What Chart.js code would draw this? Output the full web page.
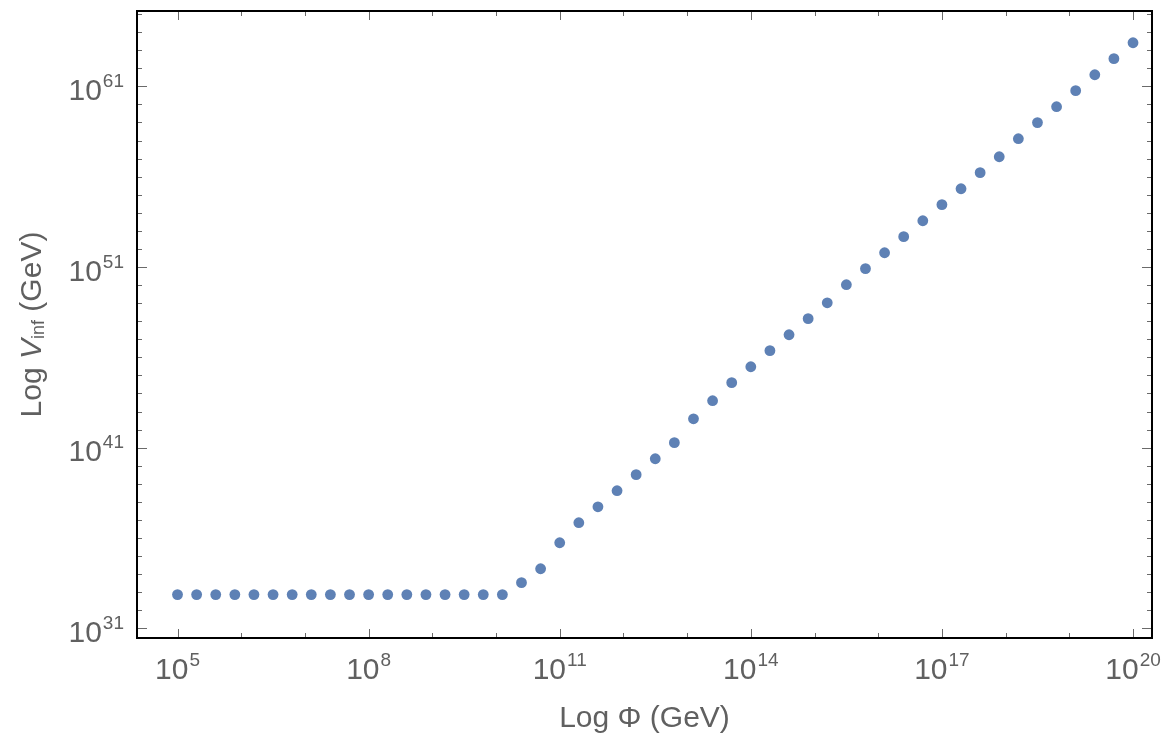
<!DOCTYPE html>
<html>
<head>
<meta charset="utf-8">
<title>Log V_inf vs Log Phi</title>
<script src="https://cdn.jsdelivr.net/npm/chart.js@4.4.1/dist/chart.umd.min.js"></script>
<style>
    html, body { margin: 0; padding: 0; background: #fff; }
    #wrap { width: 1170px; height: 748px; }
</style>
</head>
<body>
<div id="wrap"><canvas id="vinfChart"></canvas></div>
<script>
// exponents of Phi (GeV), one point every 0.3 decade
const phiExps = [
    5.0, 5.3, 5.6, 5.9, 6.2, 6.5, 6.8, 7.1, 7.4, 7.7,
    8.0, 8.3, 8.6, 8.9, 9.2, 9.5, 9.8, 10.1, 10.4, 10.7,
    11.0, 11.3, 11.6, 11.9, 12.2, 12.5, 12.8, 13.1, 13.4, 13.7,
    14.0, 14.3, 14.6, 14.9, 15.2, 15.5, 15.8, 16.1, 16.4, 16.7,
    17.0, 17.3, 17.6, 17.9, 18.2, 18.5, 18.8, 19.1, 19.4, 19.7,
    20.0
];

// exponents of V_inf (GeV)
const vinfExps = [
    32.87, 32.87, 32.87, 32.87, 32.87, 32.87, 32.87, 32.87, 32.87, 32.87,
    32.87, 32.87, 32.87, 32.87, 32.87, 32.87, 32.87, 32.87, 33.53, 34.30,
    35.74, 36.85, 37.73, 38.62, 39.51, 40.39, 41.28, 42.60, 43.60, 44.60,
    45.48, 46.37, 47.25, 48.14, 49.02, 50.02, 50.91, 51.79, 52.68, 53.56,
    54.45, 55.33, 56.22, 57.10, 58.10, 58.99, 59.87, 60.76, 61.64, 62.53,
    63.41
];

const xTickExps = [5, 8, 11, 14, 17, 20];
const yTickExps = [31, 41, 51, 61];
const xMinorExps = [5, 6, 7, 8, 9, 10, 11, 12, 13, 14, 15, 16, 17, 18, 19, 20];
const yMinorExps = [31, 32, 33, 34, 35, 36, 37, 38, 39, 40, 41, 42, 43, 44, 45, 46, 47, 48,
    49, 50, 51, 52, 53, 54, 55, 56, 57, 58, 59, 60, 61, 62, 63, 64, 65];

const xTitle = 'Log \u03A6 (GeV)';
const yTitleParts = ['Log ', 'V', 'inf', ' (GeV)'];

const FONT = '"Liberation Sans", Arial, Helvetica, sans-serif';
const TEXT_COLOR = '#606060';
const TICK_COLOR = '#6a6a6a';

// draws "10" with a raised exponent, anchored by its right edge or its centre
function drawPower(ctx, exp, x, baseline, align) {
    ctx.font = '30px ' + FONT;
    const baseW = ctx.measureText('10').width;
    ctx.font = '19px ' + FONT;
    const supW = ctx.measureText(String(exp)).width;
    const total = baseW + supW + 1;
    let left = x;
    if (align === 'center') left = x - total / 2;
    if (align === 'right') left = x - total;
    ctx.textAlign = 'left';
    ctx.textBaseline = 'alphabetic';
    ctx.font = '30px ' + FONT;
    ctx.fillText('10', left, baseline);
    ctx.font = '19px ' + FONT;
    ctx.fillText(String(exp), left + baseW + 1, baseline - 13);
}

const framePlugin = {
    id: 'mathematicaFrame',
    afterDatasetsDraw(chart) {
        const ctx = chart.ctx;
        const area = chart.chartArea;
        const xs = chart.scales.x;
        const ys = chart.scales.y;
        ctx.save();

        // ticks on all four sides, pointing inwards
        ctx.strokeStyle = TICK_COLOR;
        ctx.lineWidth = 1;
        ctx.beginPath();
        xMinorExps.forEach(e => {
            const px = Math.round(xs.getPixelForValue(Math.pow(10, e))) + 0.5;
            const len = xTickExps.includes(e) ? 9 : 5;
            ctx.moveTo(px, area.bottom); ctx.lineTo(px, area.bottom - len);
            ctx.moveTo(px, area.top); ctx.lineTo(px, area.top + len);
        });
        yMinorExps.forEach(e => {
            const py = Math.round(ys.getPixelForValue(Math.pow(10, e))) + 0.5;
            const len = yTickExps.includes(e) ? 10 : 5;
            ctx.moveTo(area.left, py); ctx.lineTo(area.left + len, py);
            ctx.moveTo(area.right, py); ctx.lineTo(area.right - len, py);
        });
        ctx.stroke();

        // frame
        ctx.strokeStyle = '#000';
        ctx.lineWidth = 2;
        ctx.strokeRect(area.left, area.top, area.right - area.left, area.bottom - area.top);

        // tick labels
        ctx.fillStyle = TEXT_COLOR;
        xTickExps.forEach(e => {
            drawPower(ctx, e, xs.getPixelForValue(Math.pow(10, e)), area.bottom + 41, 'center');
        });
        yTickExps.forEach(e => {
            drawPower(ctx, e, area.left - 13, ys.getPixelForValue(Math.pow(10, e)) + 13.5, 'right');
        });

        // x title
        ctx.font = '30px ' + FONT;
        ctx.textAlign = 'center';
        ctx.fillText(xTitle, (area.left + area.right) / 2, area.bottom + 89);

        // y title, rotated, with italic V and subscript inf
        const fonts = ['30px ' + FONT, 'italic 30px ' + FONT, '18px ' + FONT, '30px ' + FONT];
        const shifts = [0, 0, 3, 0];
        let widths = yTitleParts.map((t, i) => { ctx.font = fonts[i]; return ctx.measureText(t).width; });
        const totalW = widths.reduce((a, b) => a + b, 0);
        ctx.translate(41, (area.top + area.bottom) / 2);
        ctx.rotate(-Math.PI / 2);
        ctx.textAlign = 'left';
        let cx = -totalW / 2;
        yTitleParts.forEach((t, i) => {
            ctx.font = fonts[i];
            ctx.fillText(t, cx, shifts[i]);
            cx += widths[i];
        });
        ctx.restore();
    }
};

document.addEventListener('DOMContentLoaded', () => {
    const points = phiExps.map((e, i) => ({ x: Math.pow(10, e), y: Math.pow(10, vinfExps[i]) }));
    renderVinfChart(points);
});

function renderVinfChart(points) {
    const ctx = document.getElementById('vinfChart').getContext('2d');
    new Chart(ctx, {
        type: 'scatter',
        data: {
            datasets: [{
                label: 'V_inf',
                data: points,
                backgroundColor: '#5E81B5',
                borderWidth: 0,
                pointRadius: 5.4,
                pointHoverRadius: 5.4
            }]
        },
        options: {
            responsive: true,
            maintainAspectRatio: false,
            animation: false,
            layout: { padding: { top: 11, right: 18, left: 0, bottom: 0 } },
            plugins: {
                legend: { display: false },
                tooltip: { enabled: false }
            },
            scales: {
                x: {
                    type: 'logarithmic',
                    min: Math.pow(10, 4.364),
                    max: Math.pow(10, 20.298),
                    grid: { display: false },
                    border: { display: false },
                    ticks: { display: false },
                    afterFit: scale => { scale.height = 110; }
                },
                y: {
                    type: 'logarithmic',
                    min: Math.pow(10, 30.469),
                    max: Math.pow(10, 65.167),
                    grid: { display: false },
                    border: { display: false },
                    ticks: { display: false },
                    afterFit: scale => { scale.width = 137; }
                }
            }
        },
        plugins: [framePlugin]
    });
}
</script>
</body>
</html>
